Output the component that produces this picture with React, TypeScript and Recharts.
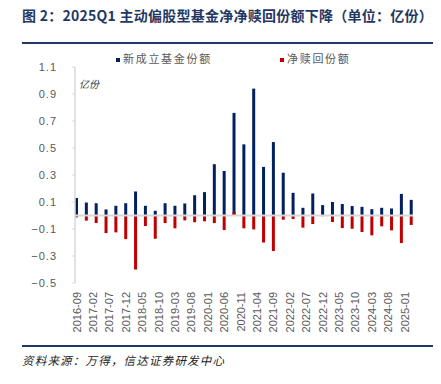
import { BarChart, Bar, XAxis, YAxis, ReferenceLine } from 'recharts'

// 季度末数据（亿份）
const QUARTERS = [
  '2016-09', '2016-12',
  '2017-03', '2017-06', '2017-09', '2017-12',
  '2018-03', '2018-06', '2018-09', '2018-12',
  '2019-03', '2019-06', '2019-09', '2019-12',
  '2020-03', '2020-06', '2020-09', '2020-12',
  '2021-03', '2021-06', '2021-09', '2021-12',
  '2022-03', '2022-06', '2022-09', '2022-12',
  '2023-03', '2023-06', '2023-09', '2023-12',
  '2024-03', '2024-06', '2024-09', '2024-12',
  '2025-03',
]

const NEW_SHARES = [
  0.13, 0.096, 0.091, 0.045, 0.072, 0.091, 0.178, 0.072, 0.035, 0.091,
  0.072, 0.089, 0.15, 0.173, 0.38, 0.33, 0.76, 0.527, 0.94, 0.36,
  0.544, 0.317, 0.168, 0.057, 0.163, 0.077, 0.1, 0.085, 0.07, 0.064,
  0.047, 0.057, 0.052, 0.16, 0.116,
]

const NET_REDEEM = [
  -0.014, -0.038, -0.056, -0.13, -0.125, -0.175, -0.4, -0.078, -0.172, -0.056,
  -0.095, -0.036, -0.05, -0.043, -0.056, -0.108, 0.025, -0.095, -0.103, -0.2,
  -0.263, -0.031, -0.026, -0.09, -0.063, -0.005, -0.048, -0.093, -0.098, -0.122,
  -0.147, -0.08, -0.11, -0.204, -0.07,
]

const Y_TICKS = [-0.5, -0.3, -0.1, 0.1, 0.3, 0.5, 0.7, 0.9, 1.1]

const NAVY = '#002060'
const RED = '#C00000'
const FRAME = '#1F3864'
const GRAY_TXT = '#595959'
const AXIS_GRAY = '#d9d9d9'

// 月度类目轴：横轴按月排布，每 5 个月标一次
function buildRows() {
  const rows: { month: string; newShares: number | null; redeem: number | null }[] = []
  let y = 2016
  let m = 9
  while (y < 2025 || (y === 2025 && m <= 3)) {
    const key = `${y}-${String(m).padStart(2, '0')}`
    const qi = QUARTERS.indexOf(key)
    rows.push({
      month: key,
      newShares: qi >= 0 ? NEW_SHARES[qi] : null,
      redeem: qi >= 0 ? NET_REDEEM[qi] : null,
    })
    m += 1
    if (m > 12) { m = 1; y += 1 }
  }
  return rows
}

const rows = buildRows()

function MonthTick(props: any) {
  const { x, y, payload } = props
  return (
    <g transform={`translate(${x},${y + 9})`}>
      <text
        transform="rotate(-90)"
        textAnchor="end"
        dy="0.35em"
        fontSize={11}
        fill={GRAY_TXT}
        fontFamily="'Liberation Sans', Arial, sans-serif"
      >
        {payload.value}
      </text>
    </g>
  )
}

const cjk = "'Noto Sans CJK SC', sans-serif"

export default function App() {
  return (
    <div style={{ position: 'absolute', left: 0, top: 0, width: 441, height: 384, background: '#fff', overflow: 'hidden' }}>
      <div style={{
        position: 'absolute', left: 22, top: 5, fontFamily: cjk, fontWeight: 700,
        fontSize: 14, color: FRAME, whiteSpace: 'nowrap', lineHeight: '20px', letterSpacing: 0.25,
      }}>
        图 2：2025Q1 主动偏股型基金净净赎回份额下降（单位：亿份）
      </div>
      <div style={{ position: 'absolute', left: 22, top: 42, width: 411, height: 2, background: FRAME }} />

      {/* 图例 */}
      <div style={{ position: 'absolute', left: 116, top: 50, fontFamily: cjk, fontSize: 11, color: GRAY_TXT, letterSpacing: 1.7, whiteSpace: 'nowrap', lineHeight: '16px' }}>
        <span style={{ display: 'inline-block', width: 4, height: 4, background: NAVY, marginRight: 3, verticalAlign: 'middle' }} />
        新成立基金份额
      </div>
      <div style={{ position: 'absolute', left: 280, top: 50, fontFamily: cjk, fontSize: 11, color: GRAY_TXT, letterSpacing: 1.7, whiteSpace: 'nowrap', lineHeight: '16px' }}>
        <span style={{ display: 'inline-block', width: 4, height: 4, background: RED, marginRight: 3, verticalAlign: 'middle' }} />
        净赎回份额
      </div>

      <div style={{ position: 'absolute', left: 79, top: 76, fontFamily: cjk, fontSize: 10, fontStyle: 'italic', color: '#333', whiteSpace: 'nowrap' }}>
        亿份
      </div>

      <div style={{ position: 'absolute', left: 0, top: 0 }}>
        <BarChart
          width={441}
          height={384}
          data={rows}
          margin={{ top: 67, right: 28, bottom: 41, left: 35 }}
          barSize={3}
          barGap={-3}
          barCategoryGap={0}
        >
          <XAxis
            dataKey="month"
            interval={4}
            tick={<MonthTick />}
            tickLine={false}
            axisLine={false}
            tickSize={0}
            tickMargin={0}
            height={60}
          />
          <YAxis
            domain={[-0.5, 1.1]}
            ticks={Y_TICKS}
            width={40}
            tickSize={3}
            tickMargin={15}
            axisLine={{ stroke: AXIS_GRAY, strokeWidth: 1.5 }}
            tickLine={{ stroke: AXIS_GRAY }}
            tick={{ fontSize: 11, fill: GRAY_TXT, fontFamily: "'Liberation Sans', Arial, sans-serif", letterSpacing: 1 }}
            tickFormatter={(v: number) => v.toFixed(1).replace('-', '−')}
            allowDataOverflow
          />
          <ReferenceLine y={0} stroke={AXIS_GRAY} strokeWidth={2} />
          <Bar dataKey="newShares" fill={NAVY} isAnimationActive={false} />
          <Bar dataKey="redeem" fill={RED} isAnimationActive={false} />
        </BarChart>
      </div>

      <div style={{ position: 'absolute', left: 22, top: 345, width: 411, height: 2, background: FRAME }} />
      <div style={{ position: 'absolute', left: 22, top: 352, fontFamily: cjk, fontSize: 11.5, fontStyle: 'italic', color: '#222', letterSpacing: 1.2, whiteSpace: 'nowrap' }}>
        资料来源：万得，信达证券研发中心
      </div>
    </div>
  )
}
